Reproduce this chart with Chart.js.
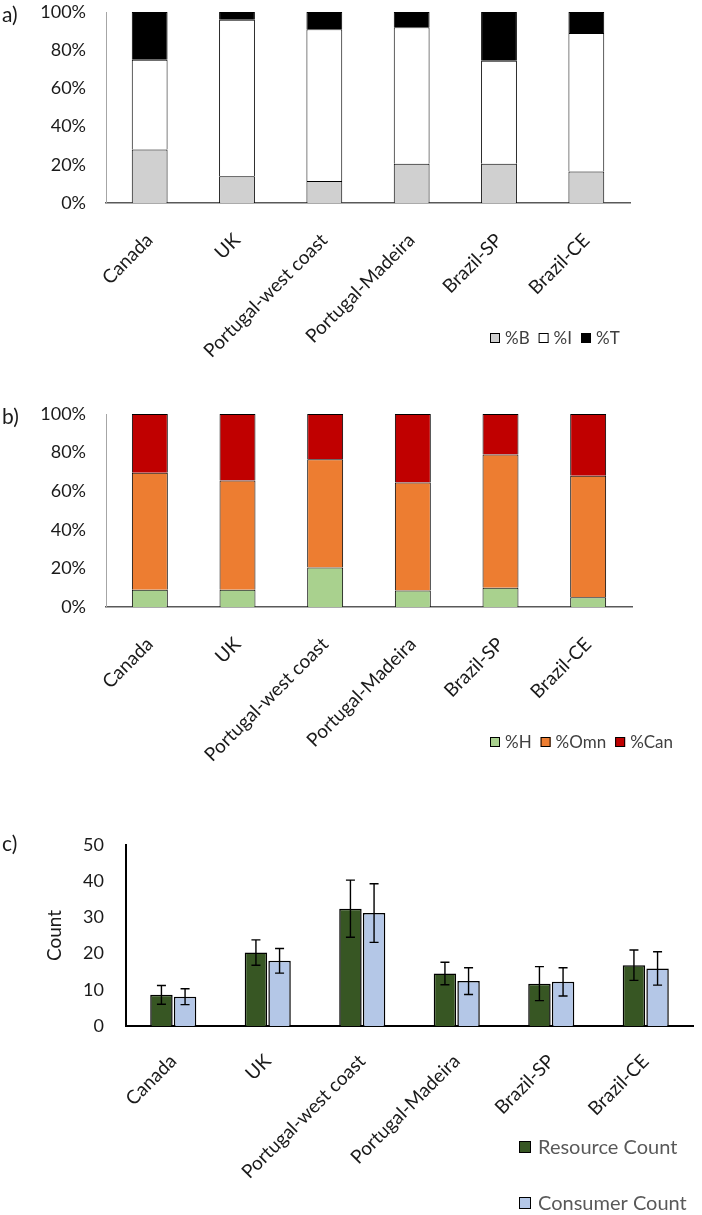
<!DOCTYPE html>
<html>
<head>
<meta charset="utf-8">
<script src="https://cdn.jsdelivr.net/npm/chart.js@4.4.1/dist/chart.umd.min.js"></script>
<style>
  body { margin: 0; background: #fff; width: 702px; height: 1215px; position: relative; overflow: hidden; font-family: Lato, sans-serif; }
  canvas { position: absolute; left: 0; }
  .tag { position: absolute; left: 2px; font-size: 21px; line-height: 25px; color: #1a1a1a; }
</style>
</head>
<body>
<canvas id="chartA" width="702" height="400" style="top:0px"></canvas>
<canvas id="chartB" width="702" height="400" style="top:400px"></canvas>
<canvas id="chartC" width="702" height="415" style="top:800px"></canvas>
<div class="tag" style="top:1px">a)</div>
<div class="tag" style="top:403px">b)</div>
<div class="tag" style="top:830px">c)</div>
<script>
const sites = ['Canada', 'UK', 'Portugal-west coast', 'Portugal-Madeira', 'Brazil-SP', 'Brazil-CE'];

// a) body-size classes (% of species)
const pctB = [28, 14, 11.5, 20.5, 20.5, 16.5];
const pctI = [47, 82, 79.5, 71.5, 54, 72.5];
const pctT = [25, 4, 9, 8, 25.5, 11];

// b) trophic groups
const pctH = [9, 9, 20.5, 8.5, 10, 5];
const pctOmn = [60.5, 56.5, 56, 56, 69, 63];
const pctCan = [30.5, 34.5, 23.5, 35.5, 21, 32];

// c) counts with error bars
const resourceCount = [8.6, 20.3, 32.4, 14.5, 11.7, 16.8];
const resourceErr = [2.6, 3.5, 7.9, 3.1, 4.7, 4.2];
const consumerCount = [8.1, 18.0, 31.2, 12.4, 12.2, 15.9];
const consumerErr = [2.2, 3.4, 8.1, 3.7, 3.9, 4.6];

const FONT = 'Lato';
Chart.defaults.font.family = FONT;
Chart.defaults.animation = false;

// legend drawn under the plot, either in one row or one item per row
const boxLegend = {
    id: 'boxLegend',
    afterDraw(chart, args, o) {
        const ctx = chart.ctx;
        ctx.save();
        ctx.font = o.size + 'px ' + FONT;
        ctx.textBaseline = 'middle';
        let x = o.x;
        chart.data.datasets.forEach((ds, i) => {
            const cy = chart.chartArea.bottom + o.dy + (o.stacked ? i * o.rowGap : 0);
            const bx = o.stacked ? o.x : x;
            ctx.fillStyle = ds.backgroundColor;
            ctx.fillRect(bx, cy - o.box / 2, o.box, o.box);
            ctx.strokeStyle = '#000';
            ctx.lineWidth = 1;
            ctx.strokeRect(bx + 0.5, cy - o.box / 2 + 0.5, o.box - 1, o.box - 1);
            ctx.fillStyle = o.color;
            ctx.fillText(ds.label, bx + o.box + o.gap, cy + 1);
            x = bx + o.box + o.gap + ctx.measureText(ds.label).width + o.itemGap;
        });
        ctx.restore();
    }
};

function stackedConfig(datasets, pad) {
    return {
        type: 'bar',
        data: { labels: sites, datasets: datasets },
        options: {
            responsive: false,
            layout: { padding: pad },
            plugins: {
                tooltip: { enabled: false },
                legend: { display: false },
                boxLegend: { x: 490, dy: 135, box: 10, gap: 5, itemGap: 9, size: 17, color: '#404040' }
            },
            scales: {
                x: {
                    stacked: true,
                    grid: { display: false, drawTicks: false },
                    border: { display: true, color: '#595959', width: 1.5 },
                    ticks: { minRotation: 45, maxRotation: 45, autoSkip: false, padding: 26, color: '#1a1a1a', font: { size: 19 } },
                    afterFit: s => { s.height = 165; }
                },
                y: {
                    stacked: true,
                    min: 0, max: 100,
                    grid: { display: false, drawTicks: false },
                    border: { display: true, color: '#a6a6a6', width: 1 },
                    ticks: { stepSize: 20, padding: 20, color: '#1a1a1a', font: { size: 18 }, callback: v => v + '%' },
                    afterFit: s => { s.width = 106; s.paddingTop = 0; s.paddingBottom = 0; }
                }
            }
        },
        plugins: [boxLegend]
    };
}

function seg(label, data, color) {
    return {
        label: label, data: data,
        backgroundColor: color, borderColor: '#000', borderWidth: 1,
        barPercentage: 0.41, categoryPercentage: 1
    };
}

new Chart(document.getElementById('chartA'), stackedConfig([
    seg('%B', pctB, '#d0d0d0'),
    seg('%I', pctI, '#ffffff'),
    seg('%T', pctT, '#000000')
], { top: 12, right: 72, bottom: 32, left: 0 }));

new Chart(document.getElementById('chartB'), stackedConfig([
    seg('%H', pctH, '#a9d18e'),
    seg('%Omn', pctOmn, '#ed7d31'),
    seg('%Can', pctCan, '#c00000')
], { top: 14, right: 70, bottom: 28, left: 0 }));

// error bars drawn from the dataset's errors array through the y scale
const errorBars = {
    id: 'errorBars',
    afterDatasetsDraw(chart) {
        const ctx = chart.ctx;
        const y = chart.scales.y;
        ctx.save();
        ctx.strokeStyle = '#000';
        ctx.lineWidth = 1.4;
        chart.data.datasets.forEach((ds, i) => {
            chart.getDatasetMeta(i).data.forEach((bar, j) => {
                const v = ds.data[j], e = ds.errors[j];
                const top = y.getPixelForValue(v + e), bot = y.getPixelForValue(v - e);
                ctx.beginPath();
                ctx.moveTo(bar.x, top); ctx.lineTo(bar.x, bot);
                ctx.moveTo(bar.x - 4.5, top); ctx.lineTo(bar.x + 4.5, top);
                ctx.moveTo(bar.x - 4.5, bot); ctx.lineTo(bar.x + 4.5, bot);
                ctx.stroke();
            });
        });
        ctx.restore();
    }
};

new Chart(document.getElementById('chartC'), {
    type: 'bar',
    data: {
        labels: sites,
        datasets: [
            { label: 'Resource Count', data: resourceCount, errors: resourceErr, backgroundColor: '#375623', borderColor: '#000', borderWidth: 1.5, barPercentage: 0.95, categoryPercentage: 0.5 },
            { label: 'Consumer Count', data: consumerCount, errors: consumerErr, backgroundColor: '#b4c7e7', borderColor: '#000', borderWidth: 1.5, barPercentage: 0.95, categoryPercentage: 0.5 }
        ]
    },
    options: {
        responsive: false,
        layout: { padding: { top: 45, right: 9, bottom: 0, left: 0 } },
        plugins: {
            tooltip: { enabled: false },
            legend: { display: false },
            boxLegend: { stacked: true, x: 519, dy: 121, rowGap: 56, box: 12, gap: 7, itemGap: 0, size: 20, color: '#595959' }
        },
        scales: {
            x: {
                grid: { display: false, drawTicks: false },
                border: { display: true, color: '#000', width: 2 },
                ticks: { minRotation: 45, maxRotation: 45, autoSkip: false, padding: 24, color: '#1a1a1a', font: { size: 19 } },
                afterFit: s => { s.height = 189; }
            },
            y: {
                min: 0, max: 50,
                grid: { display: false, drawTicks: false },
                border: { display: true, color: '#000', width: 2 },
                ticks: { stepSize: 10, padding: 22, color: '#1a1a1a', font: { size: 18 } },
                title: { display: true, text: 'Count', color: '#1a1a1a', font: { size: 19 }, padding: { top: 43 } },
                afterFit: s => { s.width = 126; s.paddingTop = 0; s.paddingBottom = 0; }
            }
        }
    },
    plugins: [errorBars, boxLegend]
});
</script>
</body>
</html>
